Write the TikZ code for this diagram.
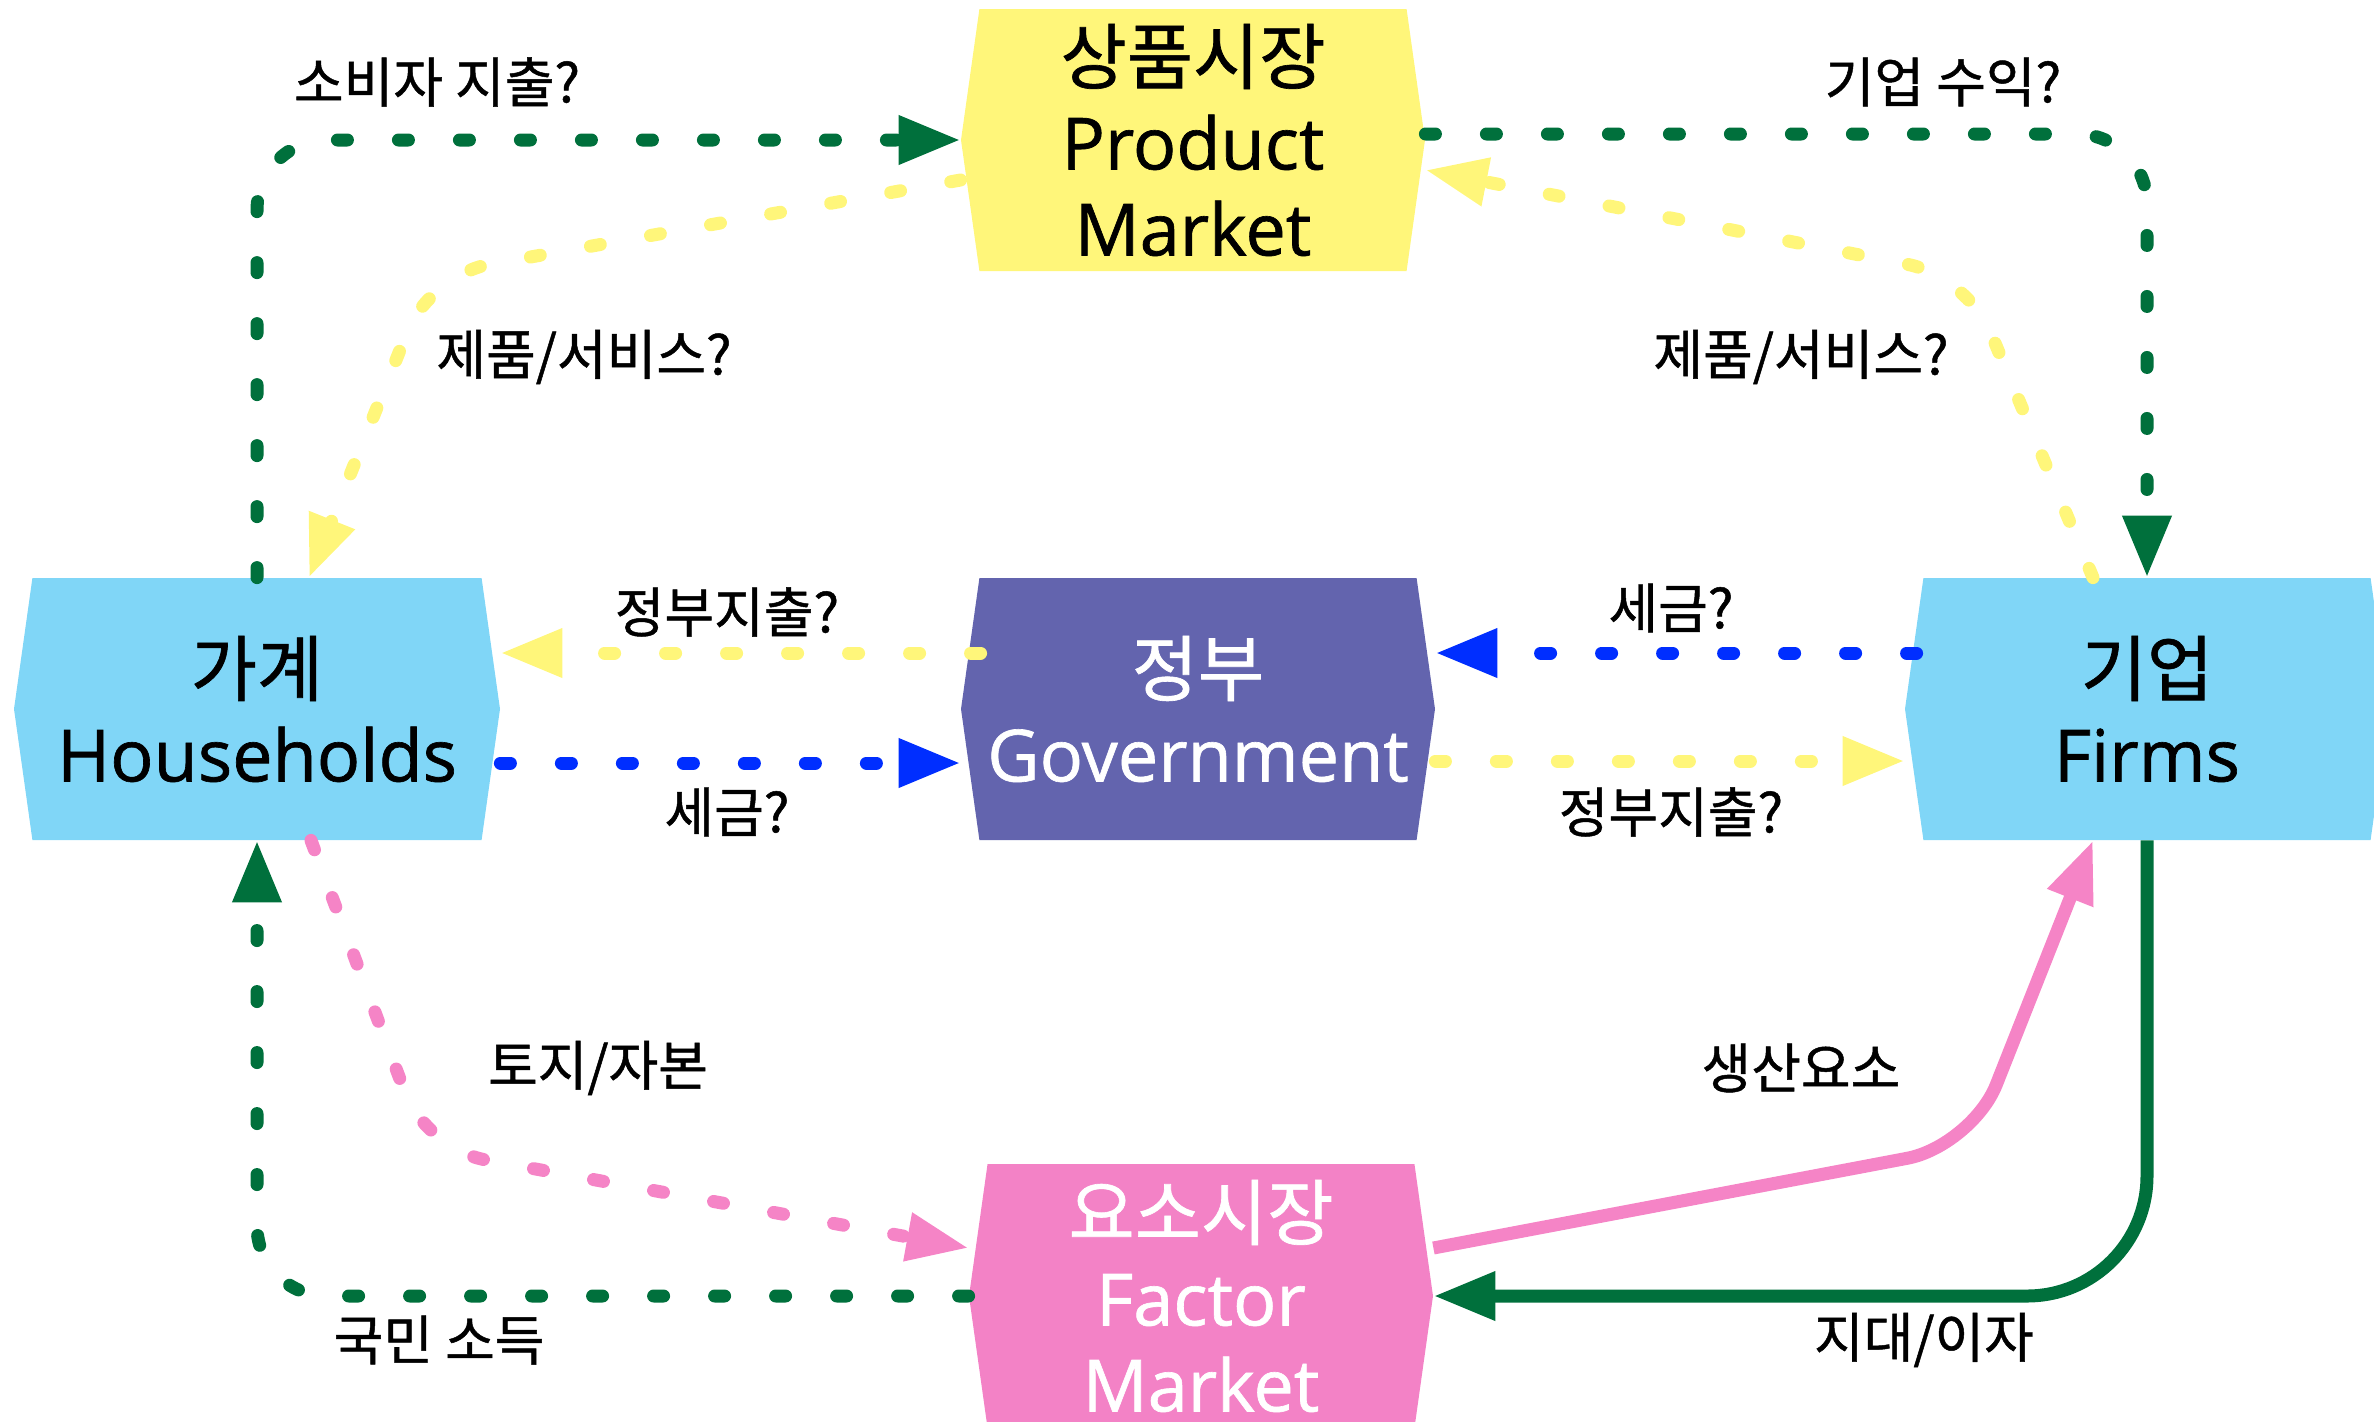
\documentclass[tikz,border=0pt]{standalone}
\usepackage{fontspec}
\setmainfont{Open Sans}[FakeBold=0.9]
\newfontfamily\krfont{Noto Sans CJK KR}[FakeBold=0.9]
\usetikzlibrary{arrows.meta,shapes.symbols}
\definecolor{pmyellow}{RGB}{255,246,122}
\definecolor{hhblue}{RGB}{128,214,247}
\definecolor{govpurple}{RGB}{99,100,174}
\definecolor{fmpink}{RGB}{243,130,198}
\definecolor{flowgreen}{RGB}{0,112,60}
\definecolor{flowblue}{RGB}{0,46,255}
\definecolor{flowyellow}{RGB}{255,246,122}
\definecolor{flowpink}{RGB}{245,132,198}

\begin{document}
\begin{tikzpicture}[x=0.5pt,y=-0.5pt,
  sector/.style={signal, signal to=west and east, signal pointer angle=164,
    minimum height=131pt, inner sep=0pt, align=center,
    font=\fontsize{36}{43}\selectfont},
  lbl/.style={font=\krfont\fontsize{27}{30}\selectfont, inner sep=0pt},
  flow/.style={line width=6.5pt, -{Triangle[length=31pt,width=23pt]}},
  dots/.style={flow, line cap=round, dash pattern=on 5pt off 25.5pt}]
  \useasboundingbox (0,0) rectangle (2374,1421);
  \node[sector, fill=pmyellow, minimum width=232pt] (pm) at (1193,140) {{\krfont 상품시장}\\Product\\Market};
  \node[sector, fill=hhblue, minimum width=243pt] (hh) at (257,709) {{\krfont 가계}\\Households};
  \node[sector, fill=govpurple, text=white, minimum width=237pt] (gov) at (1198,709) {{\krfont 정부}\\Government};
  \node[sector, fill=hhblue, minimum width=242pt] (firm) at (2147,709) {{\krfont 기업}\\Firms};
  \node[sector, fill=fmpink, text=white, minimum width=232pt, minimum height=132pt] (fm) at (1201,1296) {{\krfont 요소시장}\\Factor\\Market};
  \coordinate (bendA) at (430,275);
  \coordinate (bendB) at (1967,276);
  \coordinate (bendC) at (426,1149);
  \coordinate (bendD) at (1972,1146);
  \node[lbl] (spend) at (437,82) {소비자 지출?};
  \node[lbl] (revenue) at (1943,82) {기업 수익?};
  \node[lbl] (goodsl) at (584,357) {제품/서비스?};
  \node[lbl] (goodsr) at (1801,357) {제품/서비스?};
  \node[lbl] (govspl) at (727,612) {정부지출?};
  \node[lbl] (taxr) at (1671,608) {세금?};
  \node[lbl] (taxl) at (727,812) {세금?};
  \node[lbl] (govspr) at (1671,812) {정부지출?};
  \node[lbl] (land) at (598,1068) {토지/자본};
  \node[lbl] (inputs) at (1801,1068) {생산요소};
  \node[lbl] (income) at (439,1340) {국민 소득};
  \node[lbl] (rent) at (1924,1340) {지대/이자};
  \draw[dots, flowgreen, rounded corners=35pt] (hh.north) |- (pm.west);
  \draw[dots, flowgreen, rounded corners=35pt] ([yshift=3pt]pm.east) -| (firm.north);
  \draw[dots, flowyellow, rounded corners=30pt] ([yshift=-20pt]pm.west) -- (bendA) -- ([xshift=26pt]hh.north);
  \draw[dots, flowyellow, rounded corners=30pt] ([xshift=-27pt]firm.north) -- (bendB) -- ([yshift=-15pt]pm.east);
  \draw[dots, flowyellow, shorten <=-10pt] ([yshift=28pt]gov.west) -- ([yshift=28pt]hh.east);
  \draw[dots, flowblue, shorten <=-6pt] ([yshift=28pt]firm.west) -- ([yshift=28pt]gov.east);
  \draw[dots, flowblue] ([yshift=-27pt]hh.east) -- ([yshift=-27pt]gov.west);
  \draw[dots, flowyellow] ([yshift=-26pt]gov.east) -- ([yshift=-26pt]firm.west);
  \draw[dots, flowpink, rounded corners=30pt] ([xshift=27pt]hh.south) -- (bendC) -- ([yshift=24pt]fm.west);
  \draw[dots, flowgreen, rounded corners=35pt] (fm.west) -| (hh.south);
  \draw[flow, flowpink, rounded corners=33pt] ([yshift=24pt]fm.east) -- (bendD) -- ([xshift=-27pt]firm.south);
  \draw[flow, flowgreen, rounded corners=60pt] (firm.south) |- (fm.east);
\end{tikzpicture}
\end{document}
